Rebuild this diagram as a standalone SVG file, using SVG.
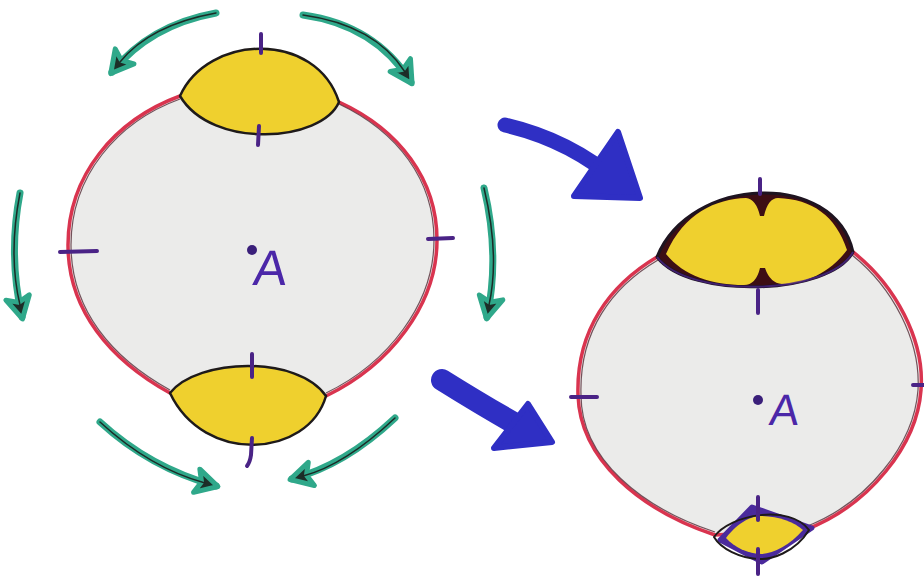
<svg xmlns="http://www.w3.org/2000/svg" width="924" height="576" viewBox="0 0 924 576">
  <style>
    .body { fill: #ebebea; stroke: #d9344f; stroke-width: 3.5; stroke-linejoin: round; }
    .rim { fill: none; stroke: #4a1e2a; stroke-width: 1.2; opacity: 0.75; }
    .lens { fill: #efd02e; stroke: #1e1a1a; stroke-width: 2.5; stroke-linejoin: round; }
    .tick { fill: none; stroke: #4a2386; stroke-width: 4; stroke-linecap: round; }
    .label { font-family: "Liberation Sans", Arial, sans-serif; fill: #4b27a8; }
    .dot { fill: #3a1f7a; }
    .turn { fill: none; stroke: #2fa88a; stroke-width: 7; stroke-linecap: round; marker-end: url(#tealHead); }
    .turn-core { fill: none; stroke: #1c2a26; stroke-width: 1.5; stroke-linecap: round; }
    .shift { fill: none; stroke: #2f2fc4; stroke-linecap: round; }
    .shift-head { fill: #2f2fc4; stroke: #2f2fc4; stroke-width: 6; stroke-linejoin: round; }
  </style>
  <defs>
    <marker id="tealHead" viewBox="-5 -17 32 34" refX="20" refY="0" markerWidth="32" markerHeight="34" markerUnits="userSpaceOnUse" orient="auto">
      <path d="M0,-12 L22,0 L0,12 L5,0 Z" fill="#1c2e28" stroke="#2fa88a" stroke-width="5" stroke-linejoin="round"/>
    </marker>
  </defs>

  <rect width="924" height="576" fill="#ffffff"/>

  <!-- left cell -->
  <g id="left-cell">
    <path class="body" d="M180,96 L339,102 C400,130 437,180 437,240 C437,305 390,365 326,396 L170,393 C110,360 68,310 68,245 C68,175 115,120 180,96 Z"/>
    <path class="rim" d="M339,104 C398,132 434,180 434,240 C434,304 388,363 326,393 M170,390 C112,358 71,310 71,245 C71,176 117,122 180,99"/>
    <path class="tick" d="M60,252 L97,251 M428,239 L453,238"/>
    <circle class="dot" cx="252" cy="250" r="5"/>
    <text class="label" x="254" y="285" font-size="50" transform="skewX(-6) translate(28,0)">A</text>
  </g>

  <g id="left-lens-top">
    <path class="lens" d="M180,96 C208,34 316,30 339,102 C322,142 212,150 180,96 Z"/>
    <path class="tick" d="M261,34 L261,53 M259,126 L258,145"/>
  </g>

  <g id="left-lens-bottom">
    <path class="lens" d="M170,393 C198,358 298,355 326,396 C308,458 204,465 170,393 Z"/>
    <path class="tick" d="M252,354 L252,377 M252,438 L251,455 Q250,462 247,466"/>
  </g>

  <!-- right cell -->
  <g id="right-cell">
    <path class="body" d="M657,257 L853,252 C895,285 925,340 921,390 C917,445 870,505 805,530 L715,535 C640,510 580,460 578,395 C576,330 610,285 657,257 Z"/>
    <path class="rim" d="M852,255 C892,287 921,340 918,390 C914,444 868,503 805,527 M715,532 C642,508 581,459 581,395 C579,331 612,287 658,260"/>
    <path class="tick" d="M571,397 L597,397 M913,385 L924,385"/>
    <circle class="dot" cx="758" cy="400" r="5"/>
    <text class="label" x="771" y="425" font-size="44" transform="skewX(-6) translate(42,0)">A</text>
  </g>

  <g id="right-lens-top">
    <path d="M657,257 C690,175 835,170 853,252 C830,295 690,300 657,257 Z" fill="#3d0e14" stroke="#1e1420" stroke-width="3" stroke-linejoin="round"/>
    <path d="M666,254 C684,213 716,199 746,198 Q756,199 760,216 L764,216 Q768,198 778,198 C812,199 836,216 847,250 C828,276 800,284 782,284 Q770,283 765,268 L760,268 Q756,285 744,285 C712,285 684,276 666,254 Z" fill="#efd02e"/>
    <path d="M853,252 C830,295 690,300 657,257" fill="none" stroke="#4a2386" stroke-width="2" opacity="0.8"/>
    <path class="tick" d="M760,179 L760,194 M758,290 L758,313"/>
  </g>

  <g id="right-lens-bottom">
    <path d="M720,540 L752,507 L812,528 L762,562 Z" fill="#4a2a9c" stroke="#4a2a9c" stroke-width="5" stroke-linejoin="round"/>
    <path d="M726,538 C738,522 752,516 760,516 C778,516 794,522 803,530 C790,545 774,553 762,554 C748,554 734,547 726,538 Z" fill="#efd02e"/>
    <path d="M714,537 C730,514 790,504 809,530 C795,553 770,560 758,559 C740,558 721,549 714,537 Z" fill="none" stroke="#1e1a1a" stroke-width="2"/>
    <path class="tick" d="M758,497 L758,520 M758,549 L758,574"/>
  </g>

  <!-- connectors: rotation arrows and transition arrows -->
  <g id="connectors">
    <path class="turn" d="M216,13 Q150,25 112,72"/>
    <path class="turn-core" d="M216,13 Q150,25 120,62"/>
    <path class="turn" d="M303,15 Q375,25 411,82"/>
    <path class="turn-core" d="M303,15 Q375,25 405,72"/>
    <path class="turn" d="M20,193 Q8,255 22,317"/>
    <path class="turn-core" d="M20,193 Q8,255 20,305"/>
    <path class="turn" d="M484,188 Q500,255 487,317"/>
    <path class="turn-core" d="M484,188 Q500,255 489,305"/>
    <path class="turn" d="M100,422 Q150,468 216,486"/>
    <path class="turn-core" d="M100,422 Q150,468 205,483"/>
    <path class="turn" d="M395,418 Q345,465 292,479"/>
    <path class="turn-core" d="M395,418 Q345,465 303,476"/>

    <path class="shift" stroke-width="15" d="M505,125 Q570,140 618,182"/>
    <path class="shift-head" d="M618,132 L640,198 L574,196 Z"/>
    <path class="shift" stroke-width="22" d="M442,380 Q490,410 530,432"/>
    <path class="shift-head" d="M528,404 L552,442 L494,448 Z"/>
  </g>
</svg>
